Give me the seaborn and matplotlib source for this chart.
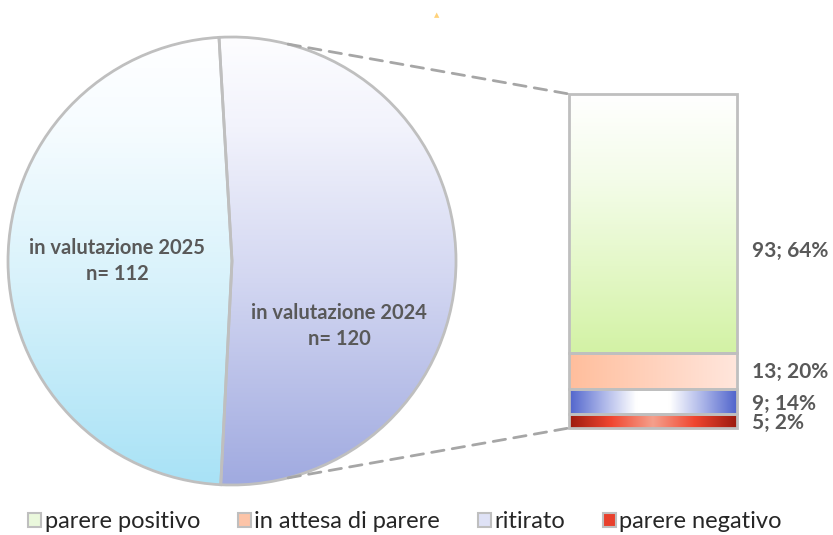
import numpy as np
import pandas as pd
import matplotlib
matplotlib.use("Agg")
import matplotlib.pyplot as plt
from matplotlib.colors import LinearSegmentedColormap
from matplotlib.patches import ConnectionPatch
import seaborn as sns

# --- data -------------------------------------------------------------
pie_labels = ["in valutazione 2024", "in valutazione 2025"]
pie_counts = [120, 112]

outcomes = ["parere positivo", "in attesa di parere", "ritirato", "parere negativo"]
outcome_counts = [93, 13, 9, 5]
outcome_pct = [64, 20, 14, 2]

# --- styling ----------------------------------------------------------
sns.set_theme(style="white")
plt.rcParams["font.family"] = ["Lato", "DejaVu Sans"]

W, H = 833, 535
fig = plt.figure(figsize=(W / 100, H / 100), dpi=100)
ax = fig.add_axes([0, 0, 1, 1])

TEXT = "#595959"
EDGE = "#bfbfbf"

# pie: one unit == one pixel on this axes
cx, cy, r = 232, H - 261, 224
start = 90 + np.degrees(np.arcsin(13 / 224))
wedges, _ = ax.pie(pie_counts, center=(cx, cy), radius=r, startangle=start,
                   counterclock=False,
                   wedgeprops=dict(facecolor="none", edgecolor=EDGE, linewidth=2))
ax.set_xlim(0, W)
ax.set_ylim(0, H)
ax.set_aspect("auto")
ax.axis("off")


def vgrad(stops, n=256):
    return LinearSegmentedColormap.from_list("g", stops)(np.linspace(0, 1, n))[:, None, :3]


pie_fills = [
    [(0.0, "#fdfdff"), (0.2, "#f2f3fc"), (0.55, "#d2d6f1"), (1.0, "#a0aae0")],
    [(0.0, "#ffffff"), (0.2, "#f6fcff"), (0.55, "#d8f2fb"), (1.0, "#a8e2f6")],
]
for w, stops in zip(wedges, pie_fills):
    img = ax.imshow(vgrad(stops)[::-1], extent=(cx - r, cx + r, cy - r, cy + r),
                    origin="lower", aspect="auto", zorder=0.5, interpolation="bicubic")
    img.set_clip_path(w)
    w.set_zorder(2)

# labels inside the pie slices
for w, lab, n, pos in zip(wedges, pie_labels, pie_counts, [(339, 326), (117, 261)]):
    ax.text(pos[0], H - pos[1], f"{lab}\nn= {n}", ha="center", va="center",
            fontsize=14.5, fontweight="bold", color=TEXT, linespacing=1.4, zorder=5)

# --- stacked bar of outcomes -----------------------------------------
bx0, bx1, by0, by1 = 569, 737, 94, 428
bax = fig.add_axes([bx0 / W, (H - by1) / H, (bx1 - bx0) / W, (by1 - by0) / H])
df = pd.DataFrame({"esito": outcomes, "n": outcome_counts, "pct": outcome_pct})
df["bottom"] = df["n"][::-1].cumsum()[::-1] - df["n"]

bar_fills = {
    "parere positivo": ("v", ["#ffffff", "#f4fce9", "#e4f8c8", "#d3f2a5"]),
    "in attesa di parere": ("h", ["#ffbe9c", "#ffd2bd", "#ffe6dc"]),
    "ritirato": ("h", ["#5064cc", "#aab4e8", "#ffffff", "#ffffff", "#aab4e8", "#5064cc"]),
    "parere negativo": ("h", ["#9c1a0e", "#f04630", "#f5a08c", "#f04630", "#9c1a0e"]),
}
legend_colors = ["#eaf8dc", "#fcc4a8", "#dfe2f6", "#e8402c"]

for i, row in df.iterrows():
    sns.barplot(x=[0], y=[row["n"]], bottom=row["bottom"], ax=bax, width=1,
                facecolor="none", edgecolor=EDGE, linewidth=2, clip_on=False,
                zorder=3, native_scale=True)
    p = bax.patches[-1]
    x0, y0 = p.get_x(), p.get_y()
    kind, cols = bar_fills[row["esito"]]
    if kind == "v":
        arr = vgrad(cols)[::-1]
    else:
        arr = vgrad(cols).transpose(1, 0, 2)
    im = bax.imshow(arr, extent=(x0, x0 + p.get_width(), y0, y0 + p.get_height()),
                    origin="lower", aspect="auto", zorder=1, interpolation="bicubic")
    im.set_clip_path(p)

bax.set_xlim(-0.5, 0.5)
bax.set_ylim(0, df["n"].sum())
bax.axis("off")

# value labels to the right of the bar (shift down in pixels)
label_shift = [28, 1, 2.5, 1.5]
for (i, row), dy in zip(df.iterrows(), label_shift):
    mid = row["bottom"] + row["n"] / 2
    bax.annotate(f"{row['n']}; {row['pct']}%", xy=(0.5, mid), xytext=(11, -dy * 0.72),
                 textcoords="offset points", ha="left", va="center",
                 fontsize=15, fontweight="bold", color=TEXT, annotation_clip=False)

# dashed connectors from the pie to the bar corners
ang = np.radians(75.5)
for sgn, yb in [(1, df["n"].sum()), (-1, 0)]:
    xa = (cx + r * np.cos(ang), cy + sgn * r * np.sin(ang))
    con = ConnectionPatch(xyA=xa, coordsA=ax.transData, xyB=(-0.5, yb), coordsB=bax.transData,
                          color="#a6a6a6", linewidth=2, linestyle=(0, (4.5, 3)), zorder=1)
    fig.add_artist(con)

# small marker near the top
ax.text(437, H - 15, "▲", ha="center", va="center", fontsize=5, color="#ffd27a",
        family="DejaVu Sans")

# --- legend -------------------------------------------------------------
handles = [plt.Rectangle((0, 0), 1, 1, facecolor=c, edgecolor=EDGE, linewidth=1.5)
           for c in legend_colors]
fig.legend(handles, outcomes, loc="center", bbox_to_anchor=(405 / W, 1 - 522 / H),
           ncol=4, frameon=False, fontsize=17, handlelength=0.55, handleheight=0.55,
           handletextpad=0.15, columnspacing=1.6, labelcolor="#262626")

fig.savefig("out.png", dpi=100)
